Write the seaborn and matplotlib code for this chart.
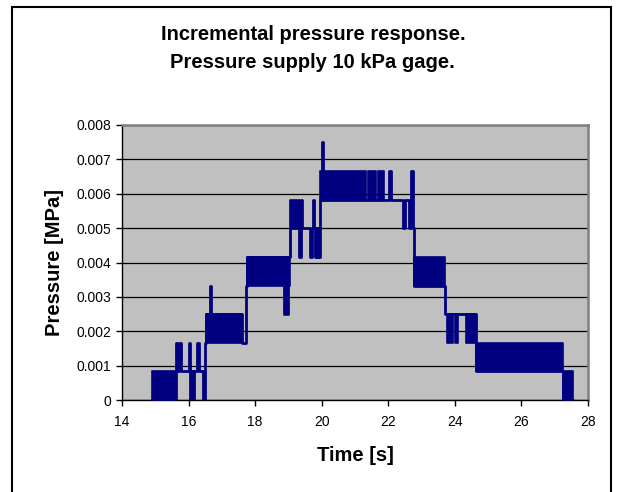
import matplotlib
matplotlib.use("Agg")
import matplotlib.pyplot as plt
from matplotlib.patches import Rectangle
import seaborn as sns
import pandas as pd

# ---- data ----
# step trace: time [s] and pressure [MPa] (value holds until next time)
trace_time = [14.89, 15.61, 15.66, 15.72, 15.78, 16.02, 16.05, 16.09, 16.12, 16.16,
              16.26, 16.31, 16.44, 16.49, 16.52, 16.63, 16.67, 17.62, 17.74, 17.76,
              18.86, 18.885, 18.97, 18.995, 19.06, 19.28, 19.31, 19.33, 19.37, 19.40,
              19.65, 19.71, 19.73, 19.78, 19.80, 19.83, 19.86, 19.90, 19.92, 19.95,
              20.00, 20.03, 22.02, 22.08, 22.43, 22.50, 22.62, 22.67, 22.73, 22.75,
              22.78, 23.70, 24.65, 27.24, 27.26, 27.54]
trace_press = [0.0, 0.00167, 0.00083, 0.00167, 0.00083, 0.00167, 0.0, 0.00083, 0.0, 0.00083,
               0.00167, 0.00083, 0.0, 0.00167, 0.0025, 0.00333, 0.0025, 0.00167, 0.00333, 0.00417,
               0.0025, 0.00417, 0.0025, 0.00417, 0.005, 0.00583, 0.005, 0.00417, 0.00583, 0.005,
               0.00417, 0.005, 0.00583, 0.005, 0.00417, 0.005, 0.00417, 0.005, 0.00417, 0.00583,
               0.0075, 0.00583, 0.00667, 0.00583, 0.005, 0.00583, 0.005, 0.00667, 0.00583, 0.005,
               0.00333, 0.0025, 0.00083, 0.00083, 0.0, 0.0]

# dense toggling bands (signal flips between two levels so fast it is solid)
band_start = [14.89, 16.52, 17.76, 19.06, 19.95, 21.39, 21.68, 22.78, 23.75, 23.89, 24.00, 24.32, 24.65, 27.26]
band_end   = [15.61, 17.62, 19.05, 19.25, 21.33, 21.63, 21.87, 23.70, 23.85, 23.95, 24.10, 24.65, 27.24, 27.54]
band_low   = [0.0, 0.00167, 0.00333, 0.005, 0.00583, 0.00583, 0.00583, 0.00333, 0.00167, 0.00167,
              0.00167, 0.00167, 0.00083, 0.0]
band_high  = [0.00083, 0.0025, 0.00417, 0.00583, 0.00667, 0.00667, 0.00667, 0.00417, 0.0025, 0.0025,
              0.0025, 0.0025, 0.00167, 0.00083]

x_ticks = [14, 16, 18, 20, 22, 24, 26, 28]
y_ticks = [0, 0.001, 0.002, 0.003, 0.004, 0.005, 0.006, 0.007, 0.008]
y_tick_labels = ["0", "0.001", "0.002", "0.003", "0.004", "0.005", "0.006", "0.007", "0.008"]

title_lines = ["Incremental pressure response.", "Pressure supply 10 kPa gage."]
x_label = "Time [s]"
y_label = "Pressure [MPa]"

# ---- drawing ----
sns.set_style("white")
plt.rcParams["font.family"] = ["Liberation Sans", "DejaVu Sans"]
plt.rcParams["text.color"] = "black"
plt.rcParams["axes.labelcolor"] = "black"

W, H = 622, 492
fig = plt.figure(figsize=(W / 100, H / 100), dpi=100)
ax = fig.add_axes([122 / W, 1 - 400 / H, (588 - 122) / W, (400 - 125) / H])
ax.set_facecolor("#C0C0C0")

navy = "#000080"
for t0, t1, lo, hi in zip(band_start, band_end, band_low, band_high):
    ax.fill_between([t0, t1], [lo, lo], [hi, hi], color=navy, lw=1.2, edgecolor=navy, zorder=3)

df = pd.DataFrame({"Time": trace_time, "Pressure": trace_press})
sns.lineplot(data=df, x="Time", y="Pressure", ax=ax, color=navy, lw=2.0,
             drawstyle="steps-post", estimator=None, sort=False, zorder=4)

ax.set_xlim(14, 28)
ax.set_ylim(0, 0.008)
ax.set_xticks(x_ticks)
ax.set_xticklabels([str(v) for v in x_ticks])
ax.set_yticks(y_ticks)
ax.set_yticklabels(y_tick_labels)
ax.yaxis.grid(True, color="black", lw=0.9)
ax.xaxis.grid(False)
ax.set_axisbelow(True)

for s in ["left", "bottom"]:
    ax.spines[s].set_color("black")
    ax.spines[s].set_linewidth(1.0)
for s in ["top", "right"]:
    ax.spines[s].set_color("#808080")
    ax.spines[s].set_linewidth(1.8)

ax.tick_params(axis="both", which="major", direction="out", length=4, width=1.0,
               color="black", labelsize=10, labelcolor="black")
ax.tick_params(axis="x", bottom=True, pad=7)
ax.tick_params(axis="y", left=True, pad=4)

ax.set_xlabel(x_label, fontsize=14.5, fontweight="bold", labelpad=12, color="black")
ax.set_ylabel(y_label, fontsize=14.5, fontweight="bold", labelpad=9, color="black")

fig.text(0.503, 1 - 35 / H, title_lines[0], ha="center", va="center", fontsize=14.5,
         fontweight="bold", color="black")
fig.text(0.503, 1 - 62 / H, title_lines[1], ha="center", va="center", fontsize=14.5,
         fontweight="bold", color="black")

fig.patches.append(Rectangle((12 / W, -0.05), (611 - 12) / W, 1 - 7 / H + 0.05,
                             transform=fig.transFigure, fill=False, ec="black", lw=1.5))

fig.savefig("out.png", dpi=100, facecolor="white")
